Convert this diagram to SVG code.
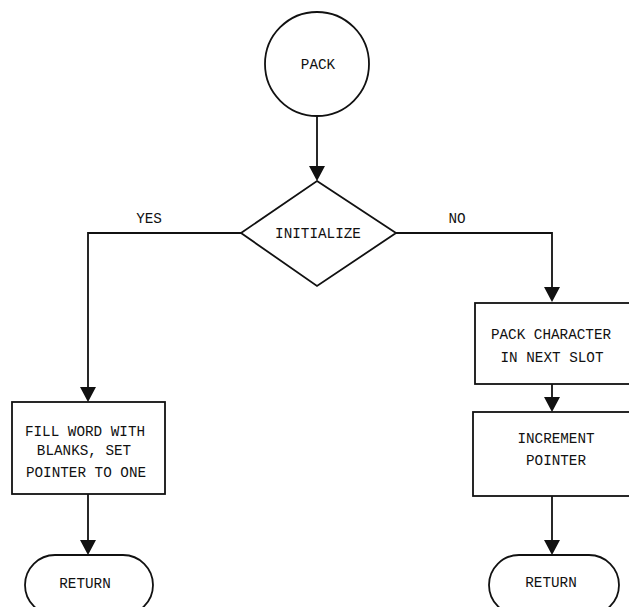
<svg xmlns="http://www.w3.org/2000/svg" width="629" height="607" viewBox="0 0 629 607">
  <style>
    .shape { fill: #fff; stroke: #111; stroke-width: 1.8; }
    .flow { fill: none; stroke: #111; stroke-width: 1.8; }
    .head { fill: #111; }
    text { font-family: "Liberation Mono", "DejaVu Sans Mono", monospace; font-size: 14.3px; fill: #111; text-anchor: middle; }
  </style>
  <rect width="629" height="607" fill="#fff"/>

  <g id="connectors">
    <path class="flow" d="M317,117 V166" />
    <path class="head" d="M309,166 L325,166 L317,181 Z"/>
    <!-- YES branch -->
    <path class="flow" d="M241,233 H88 V387" />
    <path class="head" d="M80,387 L96,387 L88,402 Z"/>
    <!-- NO branch -->
    <path class="flow" d="M396,233 H552 V287" />
    <path class="head" d="M544,287 L560,287 L552,302 Z"/>
    <!-- between process boxes -->
    <path class="flow" d="M552,384 V397" />
    <path class="head" d="M544,397 L560,397 L552,412 Z"/>
    <!-- to the returns -->
    <path class="flow" d="M88,494 V540" />
    <path class="head" d="M80,540 L96,540 L88,555 Z"/>
    <path class="flow" d="M552,496 V540" />
    <path class="head" d="M544,540 L560,540 L552,555 Z"/>
    <text x="149" y="223">YES</text>
    <text x="457" y="223">NO</text>
  </g>

  <g id="pack">
    <circle class="shape" cx="317" cy="64" r="52"/>
    <text x="318" y="69">PACK</text>
  </g>

  <g id="initialize">
    <polygon class="shape" points="317,181 396,233 317,286 241,233"/>
    <text x="318" y="238">INITIALIZE</text>
  </g>

  <g id="fill-word">
    <rect class="shape" x="12" y="402" width="153" height="92"/>
    <text x="85" y="436">FILL WORD WITH</text>
    <text x="84" y="455">BLANKS, SET</text>
    <text x="86" y="477">POINTER TO ONE</text>
  </g>

  <g id="pack-character">
    <rect class="shape" x="475" y="303" width="160" height="81"/>
    <text x="551" y="339">PACK CHARACTER</text>
    <text x="552" y="362">IN NEXT SLOT</text>
  </g>

  <g id="increment">
    <rect class="shape" x="473" y="412" width="162" height="84"/>
    <text x="556" y="443">INCREMENT</text>
    <text x="556" y="465">POINTER</text>
  </g>

  <g id="return-left">
    <rect class="shape" x="25" y="555" width="128" height="60" rx="30" ry="30"/>
    <text x="85" y="588">RETURN</text>
  </g>

  <g id="return-right">
    <rect class="shape" x="489" y="555" width="130" height="60" rx="30" ry="30"/>
    <text x="551" y="587">RETURN</text>
  </g>
</svg>
